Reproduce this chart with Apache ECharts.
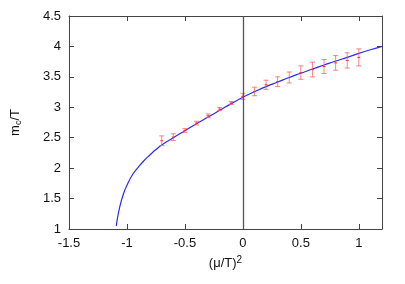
<!DOCTYPE html>
<html><head><meta charset="utf-8">
<script src="https://cdn.jsdelivr.net/npm/echarts@6/dist/echarts.min.js"></script>
<style>html,body{margin:0;padding:0;background:#fff}#c{width:405px;height:284px}</style>
</head><body><div id="c"></div>
<script>
// Data points with error bars
const pointX = [-0.7,-0.6,-0.5,-0.4,-0.3,-0.2,-0.1,0,0.1,0.2,0.3,0.4,0.5,0.6,0.7,0.8,0.9,1.0];
const pointY = [2.45,2.51,2.62,2.74,2.86,2.97,3.07,3.18,3.26,3.37,3.42,3.49,3.57,3.62,3.67,3.73,3.77,3.82];
const pointErr = [0.08,0.055,0.03,0.03,0.03,0.025,0.025,0.05,0.07,0.075,0.08,0.09,0.11,0.12,0.115,0.12,0.125,0.14];
// Fit curve
const curveX = [-1.092,-1.08,-1.06,-1.03,-1.0,-0.95,-0.9,-0.85,-0.8,-0.75,-0.7,-0.6,-0.5,-0.4,-0.3,-0.2,-0.1,0,0.1,0.2,0.3,0.4,0.5,0.6,0.7,0.8,0.9,1.0,1.1,1.2];
const curveY = [1.05,1.20,1.38,1.58,1.72,1.90,2.02,2.13,2.22,2.305,2.38,2.50,2.615,2.73,2.84,2.95,3.06,3.165,3.255,3.34,3.415,3.49,3.56,3.63,3.695,3.76,3.82,3.885,3.945,4.0];
const xTickLabels = ['-1.5','-1','-0.5','0','0.5','1'];
const yTickLabels = ['1','1.5','2','2.5','3','3.5','4','4.5'];

const font = 'Liberation Sans, Arial, sans-serif';
const axisCol = '#444';
const errData = pointX.map((x,i)=>[x, pointY[i], pointY[i]-pointErr[i], pointY[i]+pointErr[i]]);
const curveData = curveX.map((x,i)=>[x, curveY[i]]);

function xFmt(v){ const k = Math.round((v+1.5)/0.5); return Math.abs(v-(-1.5+k*0.5))<1e-6 && k>=0 && k<xTickLabels.length ? xTickLabels[k] : ''; }
function yFmt(v){ const k = Math.round((v-1)/0.5); return Math.abs(v-(1+k*0.5))<1e-6 && k>=0 && k<yTickLabels.length ? yTickLabels[k] : ''; }

const common = {axisLine:{show:true,onZero:false,lineStyle:{color:axisCol,width:1}},
  axisTick:{show:true,inside:true,length:5,lineStyle:{color:axisCol}}, splitLine:{show:false}};

const chart = echarts.init(document.getElementById('c'), null, {renderer:'canvas'});
chart.setOption({
  animation:false,
  grid:{left:69,right:23,top:16,bottom:55},
  xAxis:[
    Object.assign({type:'value',min:-1.5,max:1.2,interval:0.5,position:'bottom',
      name:'{a|(μ/T)}{s|2}',nameLocation:'middle',nameGap:22,
      nameTextStyle:{rich:{a:{fontFamily:font,fontSize:13,color:'#111'},s:{fontFamily:font,fontSize:10,color:'#111',padding:[0,0,7,0]}}},
      axisLabel:{formatter:xFmt,fontFamily:font,fontSize:13,color:'#111',margin:8}},common),
    Object.assign({type:'value',min:-1.5,max:1.2,interval:0.5,position:'top',axisLabel:{show:false}},common)
  ],
  yAxis:[
    Object.assign({type:'value',min:1,max:4.5,interval:0.5,position:'left',
      name:'{a|m}{b|c}{a|/T}',nameLocation:'middle',nameGap:46,nameRotate:90,
      nameTextStyle:{rich:{a:{fontFamily:font,fontSize:13,color:'#111'},b:{fontFamily:font,fontSize:9,color:'#111',padding:[6,0,0,0]}}},
      axisLabel:{formatter:yFmt,fontFamily:font,fontSize:13,color:'#111',margin:8}},common),
    Object.assign({type:'value',min:1,max:4.5,interval:0.5,position:'right',axisLabel:{show:false}},common)
  ],
  series:[
    {type:'line',data:curveData,showSymbol:false,smooth:0.5,lineStyle:{color:'#2b2bff',width:1.2},z:3,
     markLine:{silent:true,symbol:'none',label:{show:false},lineStyle:{color:'#555',width:1.3,type:'solid'},data:[{xAxis:0}]}},
    {type:'custom',data:errData,z:4,
     renderItem:function(params,api){
       const x=api.value(0);
       const c=api.coord([x,api.value(1)]);
       const lo=api.coord([x,api.value(2)]);
       const hi=api.coord([x,api.value(3)]);
       const w=2.5;
       const st={stroke:'rgba(255,90,90,0.75)',lineWidth:1};
       return {type:'group',children:[
         {type:'line',shape:{x1:lo[0],y1:lo[1],x2:hi[0],y2:hi[1]},style:st},
         {type:'line',shape:{x1:lo[0]-w,y1:lo[1],x2:lo[0]+w,y2:lo[1]},style:st},
         {type:'line',shape:{x1:hi[0]-w,y1:hi[1],x2:hi[0]+w,y2:hi[1]},style:st},
         {type:'line',shape:{x1:c[0]-1.5,y1:c[1],x2:c[0]+1.5,y2:c[1]},style:{stroke:'rgba(230,40,40,0.9)',lineWidth:1}}
       ]};
     }}
  ]
});
</script></body></html>
